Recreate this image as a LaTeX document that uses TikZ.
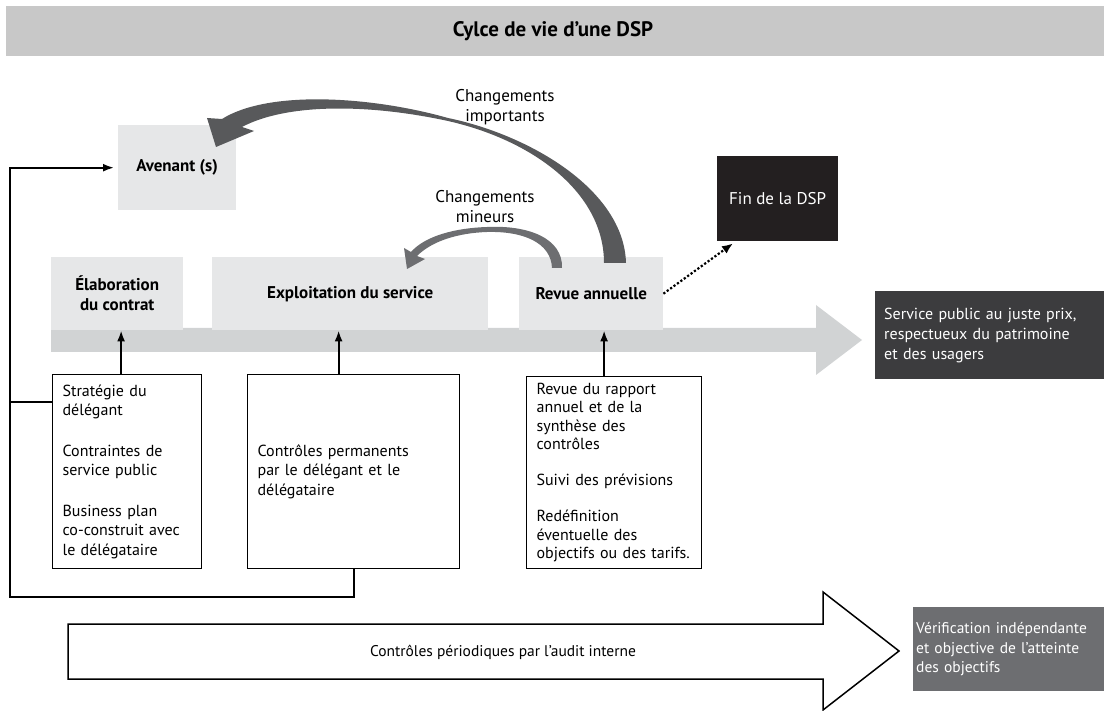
\documentclass[tikz,border=0pt]{standalone}
\usepackage{fontspec}
\setmainfont{PT Sans}
\usetikzlibrary{arrows.meta,calc}
\definecolor{bandgray}{HTML}{C8C8C8}
\definecolor{boxgray}{HTML}{E6E7E8}
\definecolor{shaftgray}{HTML}{D1D3D4}
\definecolor{curvegray}{HTML}{58595B}
\definecolor{minorgray}{HTML}{6D6E71}
\definecolor{fingray}{HTML}{231F20}
\definecolor{servgray}{HTML}{3C3C3E}
\definecolor{verifgray}{HTML}{6D6E71}
\begin{document}
\begin{tikzpicture}[x=1pt, y=-1pt,
	stage/.style={fill=boxgray, anchor=north west, inner sep=0pt, align=center, font=\fontsize{17}{20}\selectfont\bfseries},
	listbox/.style={draw, line width=1.2pt, anchor=north west, inner xsep=10pt, inner ysep=0pt, align=left, font=\fontsize{16}{19.5}\selectfont},
	darkbox/.style={anchor=north west, inner xsep=9pt, inner ysep=0pt, align=left, text=white},
	feed/.style={line width=2pt, -{Latex[length=11pt,width=8pt]}},
	wire/.style={line width=2pt},
	note/.style={align=center, font=\fontsize{17}{20}\selectfont}]
	\useasboundingbox (0,0) rectangle (1104,711);
	\fill[bandgray] (6,6) rectangle (1104,56);
	\node[font=\fontsize{21}{24}\selectfont\bfseries] (title) at (553,31) {Cylce de vie d’une DSP};
	% axe principal
	\fill[shaftgray] (51,328) -- (816,328) -- (816,305) -- (862,340) -- (816,375) -- (816,352) -- (51,352) -- cycle;
	\node[stage, minimum width=132, minimum height=73] (elab) at (51,257) {Élaboration\\du contrat};
	\node[stage, minimum width=276, minimum height=73] (exploit) at (212,257) {Exploitation du service};
	\node[stage, minimum width=144, minimum height=73] (revue) at (519,257) {Revue annuelle};
	\node[stage, minimum width=118, minimum height=85] (avenant) at (118,125) {Avenant (s)};
	\node[darkbox, fill=fingray, minimum width=121, minimum height=85, align=center, font=\fontsize{17}{20}\selectfont] (fin) at (717,156) {Fin de la DSP};
	\node[darkbox, fill=servgray, minimum width=229, minimum height=88, text width=211, font=\fontsize{16}{20}\selectfont] (service) at (875,291) {Service public au juste prix,\\respectueux du patrimoine\\et des usagers};
	% changements
	\node[note] (major) at (505,107) {Changements\\importants};
	\node[note] (minor) at (485,207) {Changements\\mineurs};
	\fill[curvegray] (626,263) .. controls (624,190) and (530,135) .. (448,118) .. controls (370,96) and (268,90) .. (222,119) -- (207,118) -- (216,147) -- (254,131) -- (242,127) .. controls (285,104) and (365,103) .. (448,121) .. controls (532,140) and (604,192) .. (604,263) -- cycle;
	\fill[minorgray] (562,268) .. controls (563,238) and (528,225) .. (487,227) .. controls (455,228) and (425,236) .. (411,252) -- (404,248) -- (407,269) -- (425,259) -- (417,256) .. controls (432,241) and (458,233) .. (487,232) .. controls (524,231) and (551,243) .. (552,268) -- cycle;
	\draw[line width=2.2pt, dash pattern=on 2.2pt off 2pt, -{Latex[length=11pt,width=9pt]}] (revue.east) -- ($(fin.south west)+(16,2)$);
	% controles
	\node[listbox, minimum width=149, minimum height=194, text width=129] (strat) at (52,374) {Stratégie du\\délégant\\[21pt]Contraintes de\\service public\\[21pt]Business plan\\co-construit avec\\le délégataire};
	\node[listbox, minimum width=212, minimum height=194, text width=192] (perm) at (247,374) {Contrôles permanents\\par le délégant et le\\délégataire};
	\node[listbox, minimum width=175, minimum height=192, text width=155, font=\fontsize{16}{18.5}\selectfont] (rapport) at (526,376) {Revue du rapport\\annuel et de la\\synthèse des\\contrôles\\[17.5pt]Suivi des prévisions\\[17.5pt]Redéfinition\\éventuelle des\\objectifs ou des tarifs.};
	\draw[feed] ([xshift=-6pt]strat.north) -- ([xshift=-6pt]strat.north |- elab.south);
	\draw[feed] ([xshift=-15pt]perm.north) -- ([xshift=-15pt]perm.north |- exploit.south);
	\draw[feed] ([xshift=-10pt]rapport.north) -- ([xshift=-10pt]rapport.north |- revue.south);
	\coordinate (corner) at (10,597);
	\coordinate (tap) at (10,402);
	\draw[feed, shorten >=4pt] (perm.south) |- (corner) |- (avenant.west);
	\draw[wire] (tap) -- (tap -| strat.west);
	% audit
	\draw[line width=1.5pt, fill=white] (68,624) -- (823,624) -- (823,592) -- (899,651) -- (823,710) -- (823,679) -- (68,679) -- cycle;
	\node[font=\fontsize{15.5}{18}\selectfont] (audit) at (503,652) {Contrôles périodiques par l’audit interne};
	\node[darkbox, fill=verifgray, minimum width=191, minimum height=84, text width=185, inner xsep=3pt, font=\fontsize{15.5}{19.5}\selectfont] (verif) at (913,607) {Vérification indépendante\\et objective de l’atteinte\\des objectifs};
\end{tikzpicture}
\end{document}
